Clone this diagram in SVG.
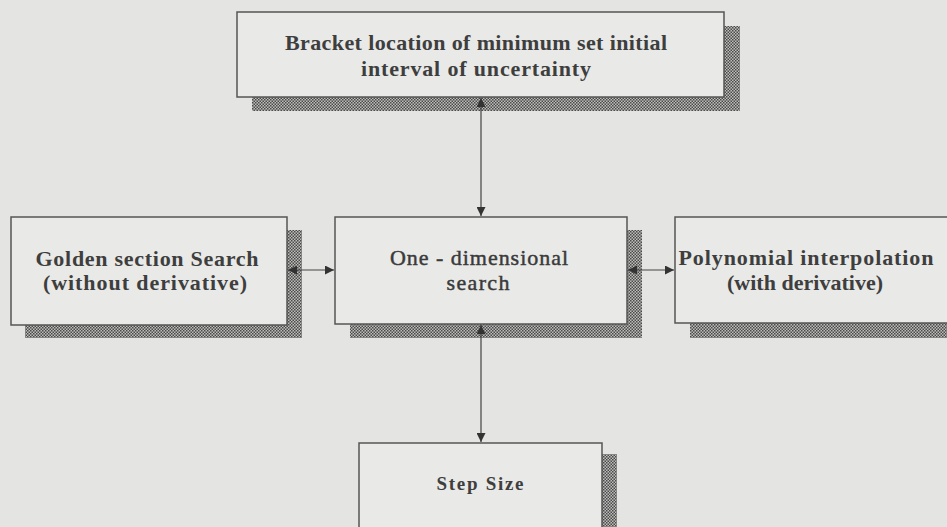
<svg xmlns="http://www.w3.org/2000/svg" width="947" height="527" viewBox="0 0 947 527">
  <defs>
    <pattern id="dots" width="3" height="3" patternUnits="userSpaceOnUse">
      <rect width="3" height="3" fill="#bdbdbb"/>
      <rect width="1.5" height="1.5" fill="#4a4a4a"/>
      <rect x="1.5" y="1.5" width="1.5" height="1.5" fill="#4a4a4a"/>
    </pattern>
    <marker id="head" viewBox="0 0 10 10" refX="10" refY="5" markerWidth="9" markerHeight="9" markerUnits="userSpaceOnUse" orient="auto-start-reverse">
      <path d="M0,0 L10,5 L0,10 z" fill="#333"/>
    </marker>
  </defs>
  <style>
    .shadow { fill: url(#dots); }
    .box { fill: #e9e9e7; stroke: #555; stroke-width: 1.5; }
    .lbl { font-family: "Liberation Serif", "Times New Roman", serif; font-weight: bold; fill: #3e3e3e; text-anchor: middle; }
    .reg { font-weight: normal; fill: #3a3a3a; stroke: #3a3a3a; stroke-width: 0.45; }
    .link { stroke: #444; stroke-width: 1.2; fill: none; marker-start: url(#head); marker-end: url(#head); }
  </style>
  <rect width="947" height="527" fill="#e4e4e2"/>

  <g id="bracket">
    <rect class="shadow" x="252" y="26" width="488" height="85"/>
    <rect class="box" x="237" y="12" width="487" height="85"/>
    <text class="lbl" font-size="22" x="476" y="50" textLength="382" lengthAdjust="spacing">Bracket location of minimum set initial</text>
    <text class="lbl" font-size="22" x="476" y="76" textLength="230" lengthAdjust="spacing">interval of uncertainty</text>
  </g>

  <g id="golden">
    <rect class="shadow" x="25" y="230" width="277" height="108"/>
    <rect class="box" x="11" y="217" width="276" height="108"/>
    <text class="lbl" font-size="22" x="147" y="266" textLength="223" lengthAdjust="spacing">Golden section Search</text>
    <text class="lbl" font-size="22" x="145" y="290" textLength="204" lengthAdjust="spacing">(without derivative)</text>
  </g>

  <g id="onedim">
    <rect class="shadow" x="350" y="230" width="292" height="108"/>
    <rect class="box" x="335" y="217" width="292" height="107"/>
    <text class="lbl reg" font-size="22" x="479" y="265" textLength="178" lengthAdjust="spacing">One - dimensional</text>
    <text class="lbl reg" font-size="22" x="478" y="290" textLength="63" lengthAdjust="spacing">search</text>
  </g>

  <g id="polynomial">
    <rect class="shadow" x="690" y="230" width="257" height="108"/>
    <rect class="box" x="675" y="217" width="280" height="106"/>
    <text class="lbl" font-size="22" x="806" y="265" textLength="255" lengthAdjust="spacing">Polynomial interpolation</text>
    <text class="lbl" font-size="22" x="805" y="290" textLength="156" lengthAdjust="spacing">(with derivative)</text>
  </g>

  <g id="stepsize">
    <rect class="shadow" x="373" y="454" width="244" height="80"/>
    <rect class="box" x="359" y="443" width="243" height="90"/>
    <text class="lbl" font-size="19" x="480" y="490" textLength="87" lengthAdjust="spacing">Step Size</text>
  </g>

  <g id="connectors">
    <line class="link" x1="481" y1="98" x2="481" y2="216"/>
    <line class="link" x1="288" y1="270" x2="334" y2="270"/>
    <line class="link" x1="628" y1="270" x2="674" y2="270"/>
    <line class="link" x1="481" y1="325" x2="481" y2="442"/>
  </g>
</svg>
